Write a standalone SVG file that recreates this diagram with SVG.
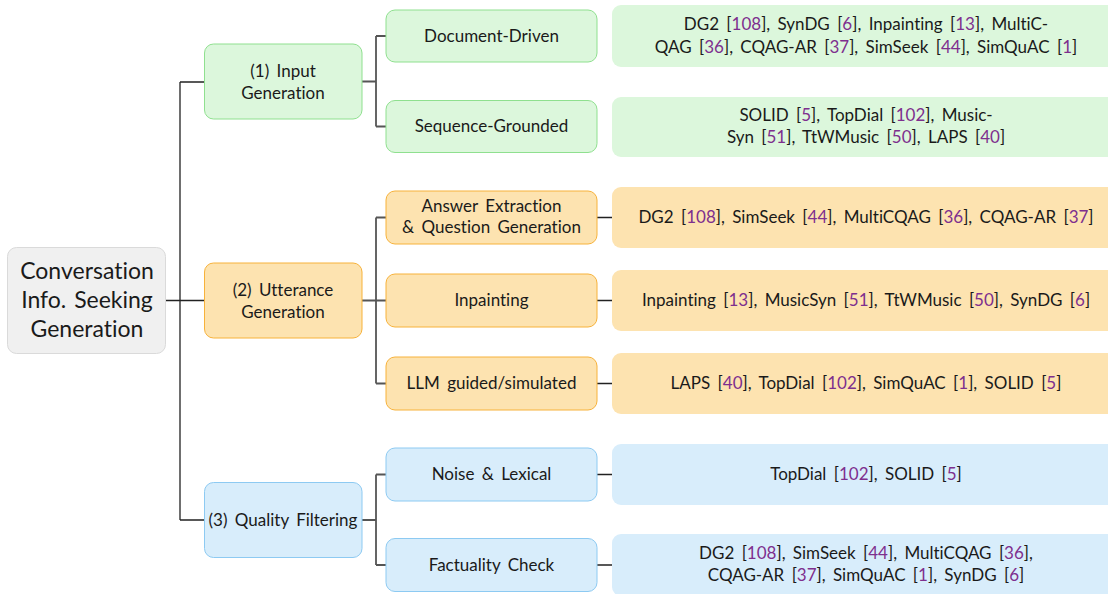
<svg xmlns="http://www.w3.org/2000/svg" width="1108" height="594" viewBox="0 0 1108 594">
<style>
text{font-family:Lato,"Noto Sans",sans-serif;font-size:17px;word-spacing:3px;fill:#1a1a1a;text-anchor:middle;font-variant-ligatures:none;font-feature-settings:"liga" 0,"clig" 0}
.root text{font-size:23px;word-spacing:2px}
.c{fill:#7e2f8e}
.g{fill:#dcf7dc;stroke:#8fe08f;stroke-width:1}
.o{fill:#fde3b0;stroke:#f7b23b;stroke-width:1}
.b{fill:#d8edfb;stroke:#8dcaf2;stroke-width:1}
.gl{fill:#dcf7dc}
.ol{fill:#fde3b0}
.bl{fill:#d8edfb}
.conn path{fill:none;stroke:#222;stroke-width:1.3}
.conn .s{stroke:#555;stroke-width:1.8}
</style>
<g class="conn">
<path d="M166,300.5H180M180,82V520M180,82H204M180,300.5H204M180,520H204"/>
<path class="s" d="M362,81.5H376M376,36V126.5M376,36H386M376,126.5H386"/>
<path class="s" d="M362,300.5H376M376,217.5V383.5M376,217.5H386M376,300.5H386M376,383.5H386"/>
<path class="s" d="M362,520H376M376,474.5V565M376,474.5H386M376,565H386"/>
<path d="M597,217.5H612M597,300.5H612M597,383.5H612M597,474.5H612M597,565H612"/>
</g>
<g id="root" class="root">
<rect x="7.5" y="247.5" width="158" height="106" rx="9" fill="#f0f0f0" stroke="#dadada"/>
<text x="87" y="279">Conversation</text>
<text x="87" y="308">Info. Seeking</text>
<text x="87" y="337">Generation</text>
</g>
<g id="input-generation">
<rect class="g" x="204.5" y="44" width="157.5" height="75" rx="9"/>
<text x="283" y="77">(1) Input</text>
<text x="283" y="99">Generation</text>
</g>
<g id="utterance-generation">
<rect class="o" x="204.5" y="263" width="157.5" height="75" rx="9"/>
<text x="283" y="296">(2) Utterance</text>
<text x="283" y="318">Generation</text>
</g>
<g id="quality-filtering">
<rect class="b" x="204.5" y="482.5" width="157.5" height="75" rx="9"/>
<text x="283" y="525.5">(3) Quality Filtering</text>
</g>
<g id="document-driven">
<rect class="g" x="386" y="10" width="211" height="52" rx="9"/>
<text x="491.5" y="42">Document-Driven</text>
</g>
<g id="sequence-grounded">
<rect class="g" x="386" y="100.5" width="211" height="52" rx="9"/>
<text x="491.5" y="132">Sequence-Grounded</text>
</g>
<g id="answer-extraction">
<rect class="o" x="386" y="191" width="211" height="53" rx="9"/>
<text x="491.5" y="212">Answer Extraction</text>
<text x="491.5" y="233">&amp; Question Generation</text>
</g>
<g id="inpainting">
<rect class="o" x="386" y="274" width="211" height="53" rx="9"/>
<text x="491.5" y="306">Inpainting</text>
</g>
<g id="llm-guided">
<rect class="o" x="386" y="357" width="211" height="53" rx="9"/>
<text x="491.5" y="389">LLM guided/simulated</text>
</g>
<g id="noise-lexical">
<rect class="b" x="386" y="448" width="211" height="53" rx="9"/>
<text x="491.5" y="480">Noise &amp; Lexical</text>
</g>
<g id="factuality-check">
<rect class="b" x="386" y="538.5" width="211" height="53" rx="9"/>
<text x="491.5" y="570.5">Factuality Check</text>
</g>
<g id="leaf-document">
<rect class="gl" x="612" y="5" width="510" height="62" rx="9"/>
<text x="866" y="30">DG2 [<tspan class="c">108</tspan>], SynDG [<tspan class="c">6</tspan>], Inpainting [<tspan class="c">13</tspan>], MultiC-</text>
<text x="866" y="53">QAG [<tspan class="c">36</tspan>], CQAG-AR [<tspan class="c">37</tspan>], SimSeek [<tspan class="c">44</tspan>], SimQuAC [<tspan class="c">1</tspan>]</text>
</g>
<g id="leaf-sequence">
<rect class="gl" x="612" y="97" width="510" height="60" rx="9"/>
<text x="866" y="121">SOLID [<tspan class="c">5</tspan>], TopDial [<tspan class="c">102</tspan>], Music-</text>
<text x="866" y="143">Syn [<tspan class="c">51</tspan>], TtWMusic [<tspan class="c">50</tspan>], LAPS [<tspan class="c">40</tspan>]</text>
</g>
<g id="leaf-answer">
<rect class="ol" x="612" y="187" width="510" height="61" rx="9"/>
<text x="866" y="223">DG2 [<tspan class="c">108</tspan>], SimSeek [<tspan class="c">44</tspan>], MultiCQAG [<tspan class="c">36</tspan>], CQAG-AR [<tspan class="c">37</tspan>]</text>
</g>
<g id="leaf-inpainting">
<rect class="ol" x="612" y="270" width="510" height="61" rx="9"/>
<text x="866" y="306">Inpainting [<tspan class="c">13</tspan>], MusicSyn [<tspan class="c">51</tspan>], TtWMusic [<tspan class="c">50</tspan>], SynDG [<tspan class="c">6</tspan>]</text>
</g>
<g id="leaf-llm">
<rect class="ol" x="612" y="353" width="510" height="61" rx="9"/>
<text x="866" y="389">LAPS [<tspan class="c">40</tspan>], TopDial [<tspan class="c">102</tspan>], SimQuAC [<tspan class="c">1</tspan>], SOLID [<tspan class="c">5</tspan>]</text>
</g>
<g id="leaf-noise">
<rect class="bl" x="612" y="444" width="510" height="61" rx="9"/>
<text x="866" y="480">TopDial [<tspan class="c">102</tspan>], SOLID [<tspan class="c">5</tspan>]</text>
</g>
<g id="leaf-factuality">
<rect class="bl" x="612" y="534" width="510" height="62" rx="9"/>
<text x="866" y="559">DG2 [<tspan class="c">108</tspan>], SimSeek [<tspan class="c">44</tspan>], MultiCQAG [<tspan class="c">36</tspan>],</text>
<text x="866" y="581">CQAG-AR [<tspan class="c">37</tspan>], SimQuAC [<tspan class="c">1</tspan>], SynDG [<tspan class="c">6</tspan>]</text>
</g>
</svg>
